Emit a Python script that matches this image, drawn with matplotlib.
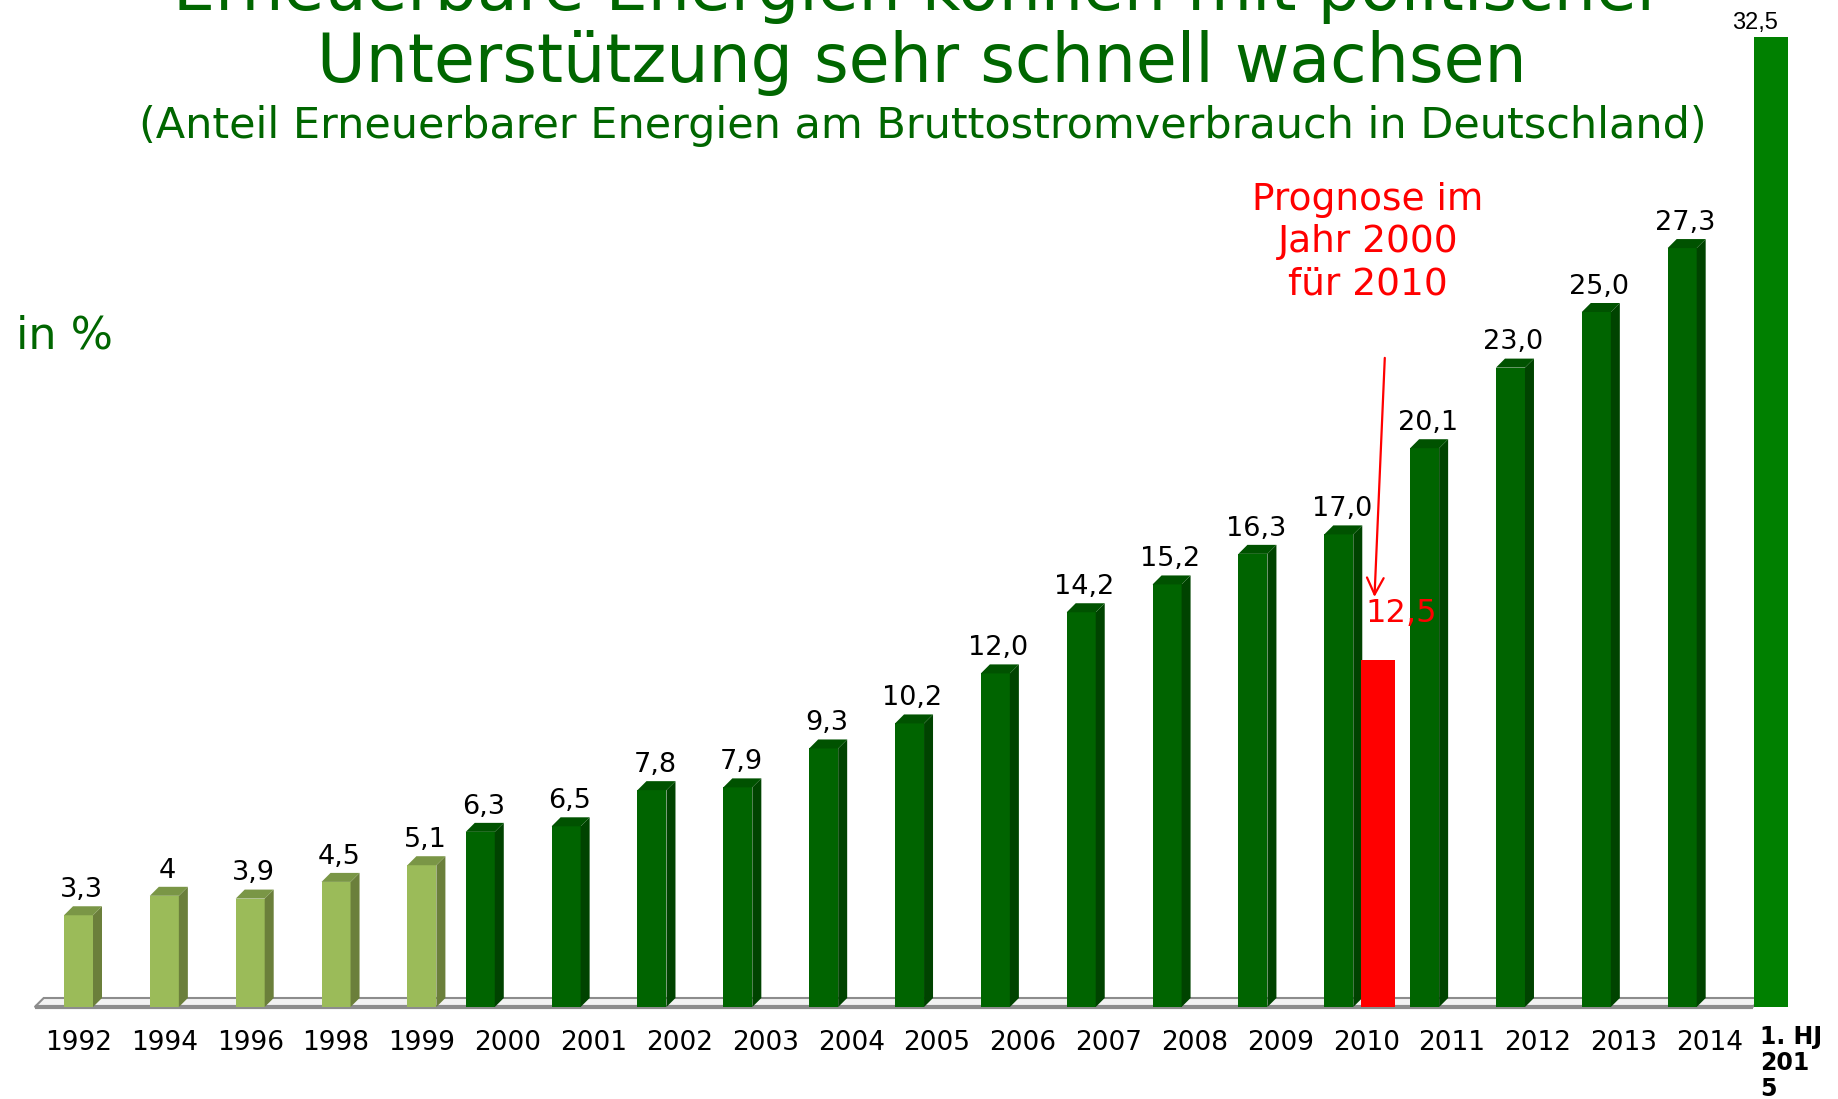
#!/usr/bin/env python3
# -*- coding: utf-8 -*-
"""
Anteil Erneuerbarer Energien am Bruttostromverbrauch in Deutschland.
Nachbau des Säulendiagramms (3D-Optik per Hand gezeichnet).
"""
#%%
import numpy as np
import matplotlib
matplotlib.use("Agg")
import matplotlib.pyplot as plt
from matplotlib.patches import Polygon

#%%
"""
Daten
"""
years_early = ['1992', '1994', '1996', '1998', '1999']
values_early = [3.3, 4.0, 3.9, 4.5, 5.1]
labels_early = ['3,3', '4', '3,9', '4,5', '5,1']

years_late = ['2000', '2001', '2002', '2003', '2004', '2005', '2006', '2007',
              '2008', '2009', '2010', '2011', '2012', '2013', '2014']
values_late = [6.3, 6.5, 7.8, 7.9, 9.3, 10.2, 12.0, 14.2, 15.2, 16.3, 17.0,
               20.1, 23.0, 25.0, 27.3]
labels_late = ['6,3', '6,5', '7,8', '7,9', '9,3', '10,2', '12,0', '14,2',
               '15,2', '16,3', '17,0', '20,1', '23,0', '25,0', '27,3']

forecast_year = '2010'
forecast_value = 12.5
forecast_label = '12,5'

half_year_label = '1. HJ\n201\n5'
half_year_value = 32.5
half_year_text = '32,5'

#%%
"""
Geometrie (Pixel -> Dateneinheiten)
"""
W, H = 1838, 1099
PX_CAT = 85.85      # Pixel pro Kategorie
X0_PX = 78.5        # Mitte der ersten Kategorie
BASE_PX = 1007      # Grundlinie
PX_VAL = 27.8       # Pixel pro Prozentpunkt
PX_VAL_HJ = 29.85   # eingefügte 2015-Säule hat eigene Skala

dx = 9 / PX_CAT
dy = 9 / PX_VAL
w3d = 29 / PX_CAT
wflat = 34 / PX_CAT

LIGHT = ('#9BBB59', '#6B7F3B', '#7A9646')
DARK = ('#006400', '#004300', '#005200')
TITLE_GREEN = '#006600'

fig = plt.figure(figsize=(W / 100, H / 100), dpi=100)
ax = fig.add_axes([0, 0, 1, 1])
ax.set_xlim(-X0_PX / PX_CAT, (W - X0_PX) / PX_CAT)
ax.set_ylim(-(H - BASE_PX) / PX_VAL, BASE_PX / PX_VAL)
ax.axis('off')

years = years_early + years_late
xpos = np.arange(len(years))

#%%
# Boden
xl, xr = -0.51, 19.5
floor = Polygon([(xl, 0), (xr, 0), (xr + dx, dy), (xl + dx, dy)],
                closed=True, fc='#F2F2F2', ec='#8C8C8C', lw=1.5, zorder=1)
ax.add_patch(floor)
ax.plot([xl, xr], [0, 0], color='#8C8C8C', lw=3, zorder=1, solid_capstyle='butt')


def bar3d(x, vals, colors):
    front, side, top = colors
    bars = ax.bar(x, vals, width=w3d, color=front, zorder=3)
    for b in bars:
        x1 = b.get_x() + b.get_width()
        x0 = b.get_x()
        h = b.get_height()
        ax.add_patch(Polygon([(x1, 0), (x1 + dx, dy), (x1 + dx, h + dy), (x1, h)],
                             fc=side, ec='none', zorder=3))
        ax.add_patch(Polygon([(x0, h), (x0 + dx, h + dy), (x1 + dx, h + dy), (x1, h)],
                             fc=top, ec='none', zorder=3))
    return bars


x_early = xpos[:len(years_early)]
x_late = xpos[len(years_early):] - 0.32

bars_e = bar3d(x_early, values_early, LIGHT)
bars_l = bar3d(x_late, values_late, DARK)

for bars, labs in ((bars_e, labels_early), (bars_l, labels_late)):
    for b, lab in zip(bars, labs):
        ax.text(b.get_x() + b.get_width() / 2 + dx / 3, b.get_height() + dy + 0.33, lab,
                ha='center', va='baseline', fontsize=19.5, color='black', zorder=5)

#%%
# Prognose 2010 (rot)
i2010 = years.index(forecast_year)
red = ax.bar(i2010 + 0.134, forecast_value, width=wflat, color='#FF0000', zorder=4)
rx = red[0].get_x()
ax.text(rx + 0.05, forecast_value + 1.67, forecast_label, color='#FF0000',
        fontsize=23, ha='left', va='center', zorder=5)
ax.annotate('', xy=(rx + 0.16, forecast_value + 2.25),
            xytext=(rx + 0.28, forecast_value + 10.85),
            arrowprops=dict(arrowstyle='->', color='#FF0000', lw=1.6,
                            mutation_scale=30, shrinkA=0, shrinkB=0), zorder=5)
ax.text(i2010 + 0.02, 27.5, 'Prognose im\nJahr 2000\nfür 2010', color='#FF0000',
        fontsize=27, ha='center', va='center', linespacing=1.22, zorder=5)

#%%
# Erstes Halbjahr 2015 (eingefügte Säule, eigene Skala)
ax2 = ax.twinx()
ax2.set_ylim(-(H - BASE_PX) / PX_VAL_HJ, BASE_PX / PX_VAL_HJ)
ax2.axis('off')
i2015 = len(years)
hj = ax2.bar(i2015 - 0.285, half_year_value, width=wflat, color='#008000', zorder=4)
ax2.text(i2015 - 0.47, half_year_value + 0.25, half_year_text, ha='center',
         va='baseline', fontsize=17, family='Liberation Sans', color='black')

#%%
# Achsenbeschriftung
for x, y in zip(xpos, years):
    ax.text(x, -43 / PX_VAL, y, ha='center', va='baseline', fontsize=19, color='black')
ax.text(i2015 - 0.41, -18 / PX_VAL, half_year_label, ha='left', va='top',
        fontsize=17, fontweight='bold', linespacing=1.1, color='black')

fig.text(16 / W, 1 - 336 / H, 'in %', fontsize=32, color=TITLE_GREEN,
         ha='left', va='center')

#%%
# Titel
fig.text(919 / W, 1 - 10 / H, 'Erneuerbare Energien können mit politischer',
         fontsize=48, color=TITLE_GREEN, ha='center', va='baseline')
fig.text(922 / W, 1 - 82 / H, 'Unterstützung sehr schnell wachsen',
         fontsize=48, color=TITLE_GREEN, ha='center', va='baseline')
fig.text(923 / W, 1 - 138 / H,
         '(Anteil Erneuerbarer Energien am Bruttostromverbrauch in Deutschland)',
         fontsize=31, color=TITLE_GREEN, ha='center', va='baseline')

fig.savefig('out.png', dpi=100)
